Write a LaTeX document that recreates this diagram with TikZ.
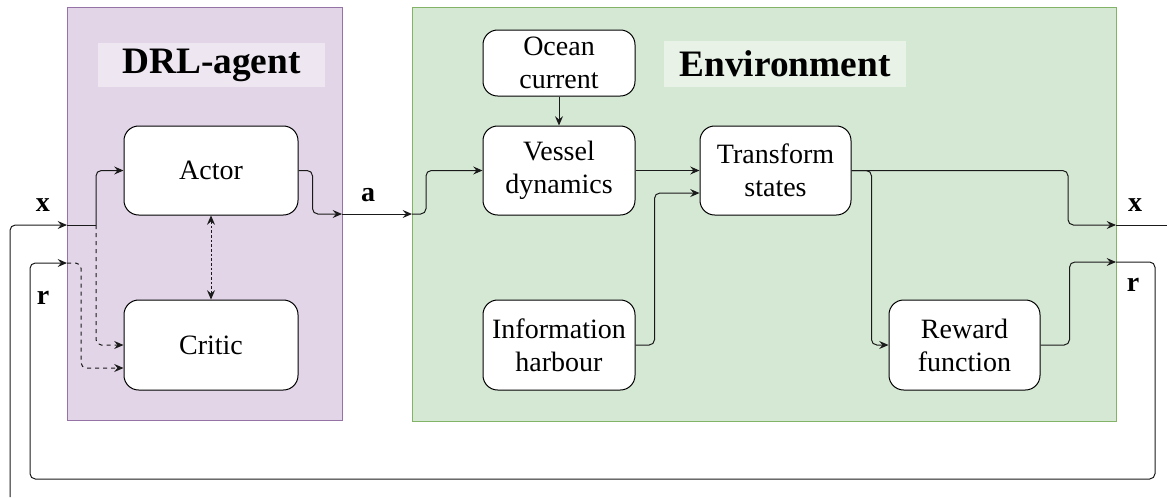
\documentclass[tikz,border=0pt]{standalone}
\usepackage{fontspec}
\setmainfont{Liberation Serif}
\usetikzlibrary{arrows.meta}

\definecolor{agentfill}{HTML}{E1D5E7}
\definecolor{agentline}{HTML}{9673A6}
\definecolor{agenttitle}{HTML}{EEE6F1}
\definecolor{envfill}{HTML}{D5E8D4}
\definecolor{envline}{HTML}{82B366}
\definecolor{envtitle}{HTML}{E8F2E7}
\definecolor{wire}{HTML}{1A1A1A}

\tikzset{
  block/.style={draw=black, fill=white, rounded corners=11pt, line width=0.75pt,
    align=center, inner sep=0pt, font=\rmfamily\fontsize{21}{24.75}\selectfont},
  panel/.style={line width=0.75pt, inner sep=0pt},
  headline/.style={inner sep=0pt, font=\rmfamily\fontsize{28}{32}\selectfont\bfseries},
  flow/.style={draw=wire, line width=0.75pt, rounded corners=4pt,
    -{Stealth[length=7pt,width=6pt,inset=2.5pt]}},
  wirebare/.style={draw=wire, line width=0.75pt, rounded corners=4pt},
  sig/.style={font=\rmfamily\fontsize{21}{24}\selectfont\bfseries, inner sep=0pt}
}

\begin{document}
\begin{tikzpicture}[x=0.75pt,y=0.75pt,yscale=-1,xscale=1]
        \useasboundingbox (0,0) rectangle (1167,497);

        %Shape: Rectangle [agent panel]
        \node [panel, draw=agentline, fill=agentfill, minimum width=206.25pt, minimum height=309.75pt] (agent) at (204.5,213.5) {};
        %Shape: Rectangle [environment panel]
        \node [panel, draw=envline, fill=envfill, minimum width=528pt, minimum height=310.5pt] (env) at (764,214) {};

        % Text Node
        \node [headline, fill=agenttitle, minimum width=170.25pt, minimum height=33pt] (agenttxt) at (211.5,65) {DRL-agent};
        % Text Node
        \node [headline, fill=envtitle, minimum width=181.5pt, minimum height=34.5pt] (envtxt) at (785,64) {Environment};

        %Shape: Rounded Rectangle
        \node [block, minimum width=130.5pt, minimum height=66.75pt] (actor) at (211,170.5) {Actor};
        \node [block, minimum width=130.5pt, minimum height=67.5pt] (critic) at (211,345) {Critic};
        \node [block, minimum width=114pt, minimum height=49.5pt] (ocean) at (559,63) {Ocean\\current};
        \node [block, minimum width=114pt, minimum height=66.75pt] (vessel) at (559,170.5) {Vessel\\dynamics};
        \node [block, minimum width=113.25pt, minimum height=66.75pt] (transform) at (775.5,170.5) {Transform\\states};
        \node [block, minimum width=114pt, minimum height=67.5pt] (harbour) at (559,345) {Information\\harbour};
        \node [block, minimum width=113.25pt, minimum height=67.5pt] (reward) at (964.5,345) {Reward\\function};

        %Ports
        \coordinate (xin) at (67,225);
        \coordinate (rin) at (67,263);
        \coordinate (xsplit) at (96,225);
        \coordinate (rsplit) at (81,263);
        \coordinate (aout) at (342,214);
        \coordinate (ain) at (412,214);
        \coordinate (xout) at (1116,225);
        \coordinate (rout) at (1116,262);

        %Straight Lines [agent side]
        \draw [flow] (10,497) |- (xin);
        \draw [wirebare] (xin) -- (xsplit);
        \draw [flow] (xsplit) |- (actor.west);
        \draw [flow, dashed] (xsplit) |- (critic.west);
        \draw [flow, dashed] (rin) -- (rsplit) |- ([yshift=17.25pt]critic.west);
        \draw [flow, dash pattern=on 2pt off 1.5pt, {Stealth[length=7pt,width=6pt,inset=2.5pt]}-{Stealth[length=7pt,width=6pt,inset=2.5pt]}] (actor.south) -- (critic.north);
        \draw [flow] (actor.east) -- ++(14,0) |- (aout);
        \draw [flow] (aout) -- (ain);

        %Straight Lines [environment side]
        \draw [flow] (ain) -- ++(14,0) |- (vessel.west);
        \draw [flow] (ocean.south) -- (vessel.north);
        \draw [flow] (vessel.east) -- (transform.west);
        \draw [flow] (harbour.east) -- ++(19,0) |- ([yshift=16.9pt]transform.west);
        \draw [flow] (transform.east) -- (1068,170.5) |- (xout);
        \draw [flow] (transform.east) -- ++(20,0) |- (reward.west);
        \draw [flow] (reward.east) -- ++(29,0) |- (rout);
        \draw [wirebare] (xout) -- (1167,225);
        \draw [flow] (rout) -- (1155,262) |- (30,479) |- (rin);

        % Text Node
        \node [sig] (xlabin) at (43,205) {x};
        \node [sig] (rlabin) at (43,298) {r};
        \node [sig] (alab) at (368,195) {a};
        \node [sig] (xlabout) at (1135,205) {x};
        \node [sig] (rlabout) at (1133,285) {r};

\end{tikzpicture}
\end{document}
